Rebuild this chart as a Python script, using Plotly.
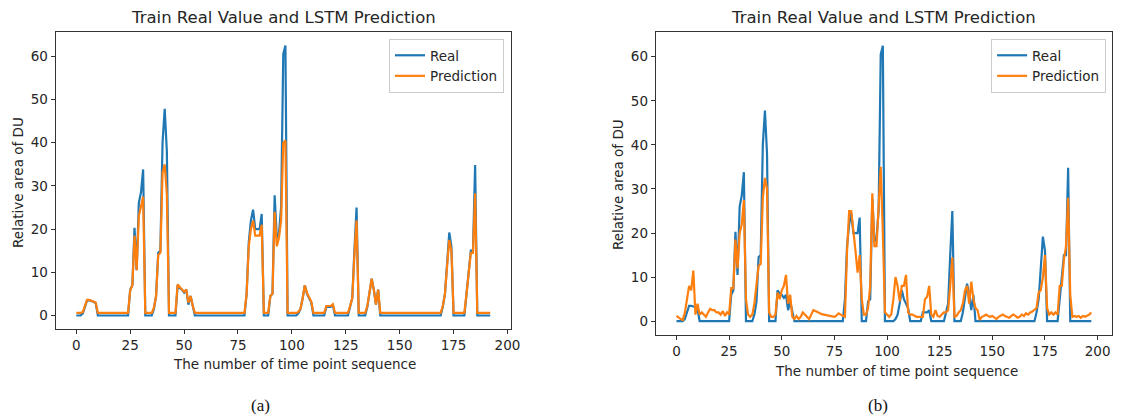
import plotly.graph_objects as go

# page has an 8px body margin; the figure is sized so it fills the 1126x419 window
PAGE_W, PAGE_H = 1126, 419
OFF = 8
W, H = PAGE_W - OFF, PAGE_H - OFF

# ---------------- data ----------------
left_real = [
    0, 0, 0, 0.5, 2, 3.5, 3.5, 3.3, 3.2, 2.8,
    0, 0, 0, 0, 0, 0, 0, 0, 0, 0,
    0, 0, 0, 0, 0, 6, 7, 20.3, 10.5, 26,
    28.5, 33.8, 0, 0, 0, 0, 1.5, 4.5, 14.5, 15,
    40, 47.8, 38, 0, 0, 0, 0, 7, 6.3, 6,
    5.3, 6, 2.5, 4.5, 2, 0, 0, 0, 0, 0,
    0, 0, 0, 0, 0, 0, 0, 0, 0, 0,
    0, 0, 0, 0, 0, 0, 0, 0, 0, 5,
    17, 22, 24.5, 20, 20, 20, 23.5, 0, 0, 0,
    4.5, 5, 27.8, 18, 19, 25, 60.5, 62.5, 0, 0,
    0, 0, 0, 0.5, 1.5, 4, 7, 5, 4, 3,
    0, 0, 0, 0, 0, 0, 2, 2, 2, 2.5,
    0, 0, 0, 0, 0, 0, 0, 2, 4, 15,
    25, 0, 0, 0, 0, 2, 5, 8.5, 6, 2.5,
    6, 0, 0, 0, 0, 0, 0, 0, 0, 0,
    0, 0, 0, 0, 0, 0, 0, 0, 0, 0,
    0, 0, 0, 0, 0, 0, 0, 0, 0, 0,
    2, 5, 12, 19.2, 16, 0, 0, 0, 0, 0,
    0, 5, 10, 15, 15, 34.8, 0, 0, 0, 0,
    0, 0, 0,
]
left_pred = [
    0.6, 0.6, 0.6, 0.8, 2.2, 3.6, 3.6, 3.4, 3.3, 3.0,
    0.6, 0.6, 0.6, 0.6, 0.6, 0.6, 0.6, 0.6, 0.6, 0.6,
    0.6, 0.6, 0.6, 0.6, 0.6, 5.8, 7, 18.5, 10.5, 23,
    25.5, 27.5, 0.6, 0.6, 0.6, 0.6, 1.8, 4.5, 14, 14.5,
    33, 35, 28, 0.6, 0.6, 0.6, 0.6, 7.2, 6.5, 6,
    5.5, 6, 3, 4.5, 2.3, 0.6, 0.6, 0.6, 0.6, 0.6,
    0.6, 0.6, 0.6, 0.6, 0.6, 0.6, 0.6, 0.6, 0.6, 0.6,
    0.6, 0.6, 0.6, 0.6, 0.6, 0.6, 0.6, 0.6, 0.6, 5,
    16, 20, 22, 18.5, 18.5, 18.5, 21, 0.6, 0.6, 0.6,
    4.5, 5, 24, 16, 18, 22, 40, 40.5, 0.6, 0.6,
    0.6, 0.6, 0.6, 0.8, 1.6, 4, 7, 5.2, 4, 3.2,
    0.6, 0.6, 0.6, 0.6, 0.6, 0.6, 2.2, 2.2, 2.2, 2.6,
    0.6, 0.6, 0.6, 0.6, 0.6, 0.6, 0.6, 2.2, 4, 14,
    22, 0.6, 0.6, 0.6, 0.6, 2.2, 5, 8.5, 6, 2.5,
    6, 0.6, 0.6, 0.6, 0.6, 0.6, 0.6, 0.6, 0.6, 0.6,
    0.6, 0.6, 0.6, 0.6, 0.6, 0.6, 0.6, 0.6, 0.6, 0.6,
    0.6, 0.6, 0.6, 0.6, 0.6, 0.6, 0.6, 0.6, 0.6, 0.6,
    2.2, 5, 11.5, 17.5, 15, 0.6, 0.6, 0.6, 0.6, 0.6,
    0.6, 5, 9.5, 14.5, 14.5, 28.3, 0.6, 0.6, 0.6, 0.6,
    0.6, 0.6, 0.6,
]
right_real = [
    0, 0, 0, 0, 0.5, 2, 3.5, 3.5, 3.3, 3.2,
    2.8, 0, 0, 0, 0, 0, 0, 0, 0, 0,
    0, 0, 0, 0, 0, 0, 6, 7, 20.3, 10.5,
    26, 28.5, 33.8, 0, 0, 0, 0, 1.5, 4.5, 14.5,
    15, 40, 47.8, 38, 0, 0, 0, 0, 7, 6.3,
    6, 5.3, 6, 2.5, 4.5, 2, 0, 0, 0, 0,
    0, 0, 0, 0, 0, 0, 0, 0, 0, 0,
    0, 0, 0, 0, 0, 0, 0, 0, 0, 0,
    5, 17, 22, 24.5, 20, 20, 20, 23.5, 0, 0,
    0, 4.5, 5, 27.8, 18, 19, 25, 60.5, 62.5, 0,
    0, 0, 0, 0, 0.5, 1.5, 4, 7, 5, 4,
    3, 0, 0, 0, 0, 0, 0, 2, 2, 2,
    2.5, 0, 0, 0, 0, 0, 0, 0, 2, 4,
    15, 25, 0, 0, 0, 0, 2, 5, 8.5, 6,
    2.5, 6, 0, 0, 0, 0, 0, 0, 0, 0,
    0, 0, 0, 0, 0, 0, 0, 0, 0, 0,
    0, 0, 0, 0, 0, 0, 0, 0, 0, 0,
    0, 2, 5, 12, 19.2, 16, 0, 0, 0, 0,
    0, 0, 5, 10, 15, 15, 34.8, 0, 0, 0,
    0, 0, 0, 0, 0, 0, 0, 0,
]
right_pred = [
    1.2, 0.8, 0.5, 0.3, 2, 5, 8, 7, 11.5, 1.5,
    4, 1.5, 2, 1.5, 1, 2, 2.8, 2.5, 2.5, 2,
    2, 1.5, 2.3, 1.2, 2, 1.5, 7.5, 7.5, 18.5, 12,
    20, 22, 27.5, 5, 1.5, 1, 1.5, 4, 9, 12.5,
    13, 28, 32.5, 30, 2, 1, 1, 1.5, 6.5, 5,
    7, 8, 10.5, 4, 6, 1, 0.5, 1.2, 0.5, 1,
    2, 1.5, 0.8, 0.5, 1.5, 2.5, 2.3, 2, 1.8, 1.6,
    1.5, 1.4, 1.2, 1.1, 1, 1, 1.3, 1.8, 1.5, 1.2,
    1, 16, 25, 25, 21, 16, 11, 15, 5, 1.5,
    1.5, 3, 8, 29, 17, 17, 26, 35, 20, 2,
    1.5, 1, 1.5, 5, 10, 8, 4.5, 8, 8, 10.5,
    2, 1.5, 1.5, 1.2, 1, 1, 1, 1, 5, 5.5,
    8, 1.5, 1, 2.5, 1.2, 1, 1.5, 2, 2, 2.5,
    8, 14.5, 1, 1.2, 2, 2.5, 4, 7, 8, 4,
    9, 5, 3, 2.5, 0.3, 1, 1.2, 1.5, 1.2, 1,
    1.2, 0.8, 0.5, 1, 1.3, 1.5, 1.2, 1, 0.8, 1.2,
    1.5, 1.2, 0.8, 1, 1.5, 1.2, 1.8, 1.5, 2, 2.2,
    2.5, 3, 6.5, 7, 10, 15, 3, 1.5, 2, 1.5,
    2, 1.5, 8, 8, 14, 17, 28, 6, 1, 1.2,
    1, 1.2, 0.8, 1.2, 1, 1.2, 1.5, 2,
]
x_ticks = [0, 25, 50, 75, 100, 125, 150, 175, 200]
y_ticks = [0, 10, 20, 30, 40, 50, 60]
title_text = "Train Real Value and LSTM Prediction"
x_label = "The number of time point sequence"
y_label = "Relative area of DU"
series_names = ["Real", "Prediction"]
captions = ["(a)", "(b)"]

BLUE = "#1f77b4"
ORANGE = "#ff7f0e"
FONT = "DejaVu Sans, Liberation Sans, sans-serif"
SERIF = "Liberation Serif, Times New Roman, serif"
TXT = "#262626"
TICK_SIZE = 13.5
TITLE_SIZE = 16.5


def px(x):
    """page pixel x -> paper fraction"""
    return (x - OFF) / W


def py(y):
    """page pixel y (from top) -> paper fraction"""
    return 1 - (y - OFF) / H


fig = go.Figure()
for xs, ys, name, color, xa, ya, lg in [
    (range(len(left_real)), left_real, series_names[0], BLUE, "x", "y", "legend"),
    (range(len(left_pred)), left_pred, series_names[1], ORANGE, "x", "y", "legend"),
    (range(len(right_real)), right_real, series_names[0], BLUE, "x2", "y2", "legend2"),
    (range(len(right_pred)), right_pred, series_names[1], ORANGE, "x2", "y2", "legend2"),
]:
    fig.add_trace(go.Scatter(x=list(xs), y=ys, mode="lines", name=name,
                             line=dict(color=color, width=2.2),
                             xaxis=xa, yaxis=ya, legend=lg))

axis_common = dict(showgrid=False, zeroline=False, showline=True, mirror=True,
                   linecolor="#333333", linewidth=1, ticks="outside", ticklen=4,
                   tickcolor="#333333",
                   tickfont=dict(family=FONT, size=TICK_SIZE, color=TXT))

# panel geometry (page pixels)
L = dict(x0=56, x1=515, y0=32, y1=329)
R = dict(x0=661, x1=1121, y0=32, y1=335)

legend_common = dict(xanchor="right", yanchor="top",
                     bgcolor="rgba(255,255,255,0.85)", bordercolor="#cccccc", borderwidth=1,
                     font=dict(family=FONT, size=TICK_SIZE, color=TXT),
                     tracegroupgap=0, itemwidth=30)

fig.update_layout(
    width=W, height=H, margin=dict(l=0, r=0, t=0, b=0),
    paper_bgcolor="white", plot_bgcolor="white",
    font=dict(family=FONT, color=TXT),
    xaxis=dict(domain=[px(L["x0"]), px(L["x1"])], anchor="y", range=[-9.6, 201.6],
               tickvals=x_ticks, **axis_common),
    yaxis=dict(domain=[py(L["y1"]), py(L["y0"])], anchor="x", range=[-3.125, 65.6],
               tickvals=y_ticks, **axis_common),
    xaxis2=dict(domain=[px(R["x0"]), px(R["x1"])], anchor="y2", range=[-9.85, 206.85],
                tickvals=x_ticks, **axis_common),
    yaxis2=dict(domain=[py(R["y1"]), py(R["y0"])], anchor="x2", range=[-3.125, 65.6],
                tickvals=y_ticks, **axis_common),
    legend=dict(x=px(508), y=py(39), **legend_common),
    legend2=dict(x=px(1115), y=py(39), **legend_common),
    showlegend=True,
)


def text_ann(text, x, y, size, family=FONT, angle=0, color=TXT):
    return dict(text=text, x=px(x), y=py(y), xref="paper", yref="paper", showarrow=False,
                textangle=angle, font=dict(family=family, size=size, color=color),
                xanchor="center", yanchor="middle")


ann = [
    text_ann(title_text, (L["x0"] + L["x1"]) / 2, 18, TITLE_SIZE),
    text_ann(title_text, (R["x0"] + R["x1"]) / 2, 18, TITLE_SIZE),
    text_ann(x_label, 297, 364, TICK_SIZE),
    text_ann(x_label, 904, 371, TICK_SIZE),
    text_ann(y_label, 18, 182, TICK_SIZE, angle=-90),
    text_ann(y_label, 623, 185, TICK_SIZE, angle=-90),
    text_ann(captions[0], 263, 405, 17, family=SERIF, color="#111111"),
    text_ann(captions[1], 885, 405, 17, family=SERIF, color="#111111"),
]
fig.update_layout(annotations=ann)

fig.write_html("out.html")
